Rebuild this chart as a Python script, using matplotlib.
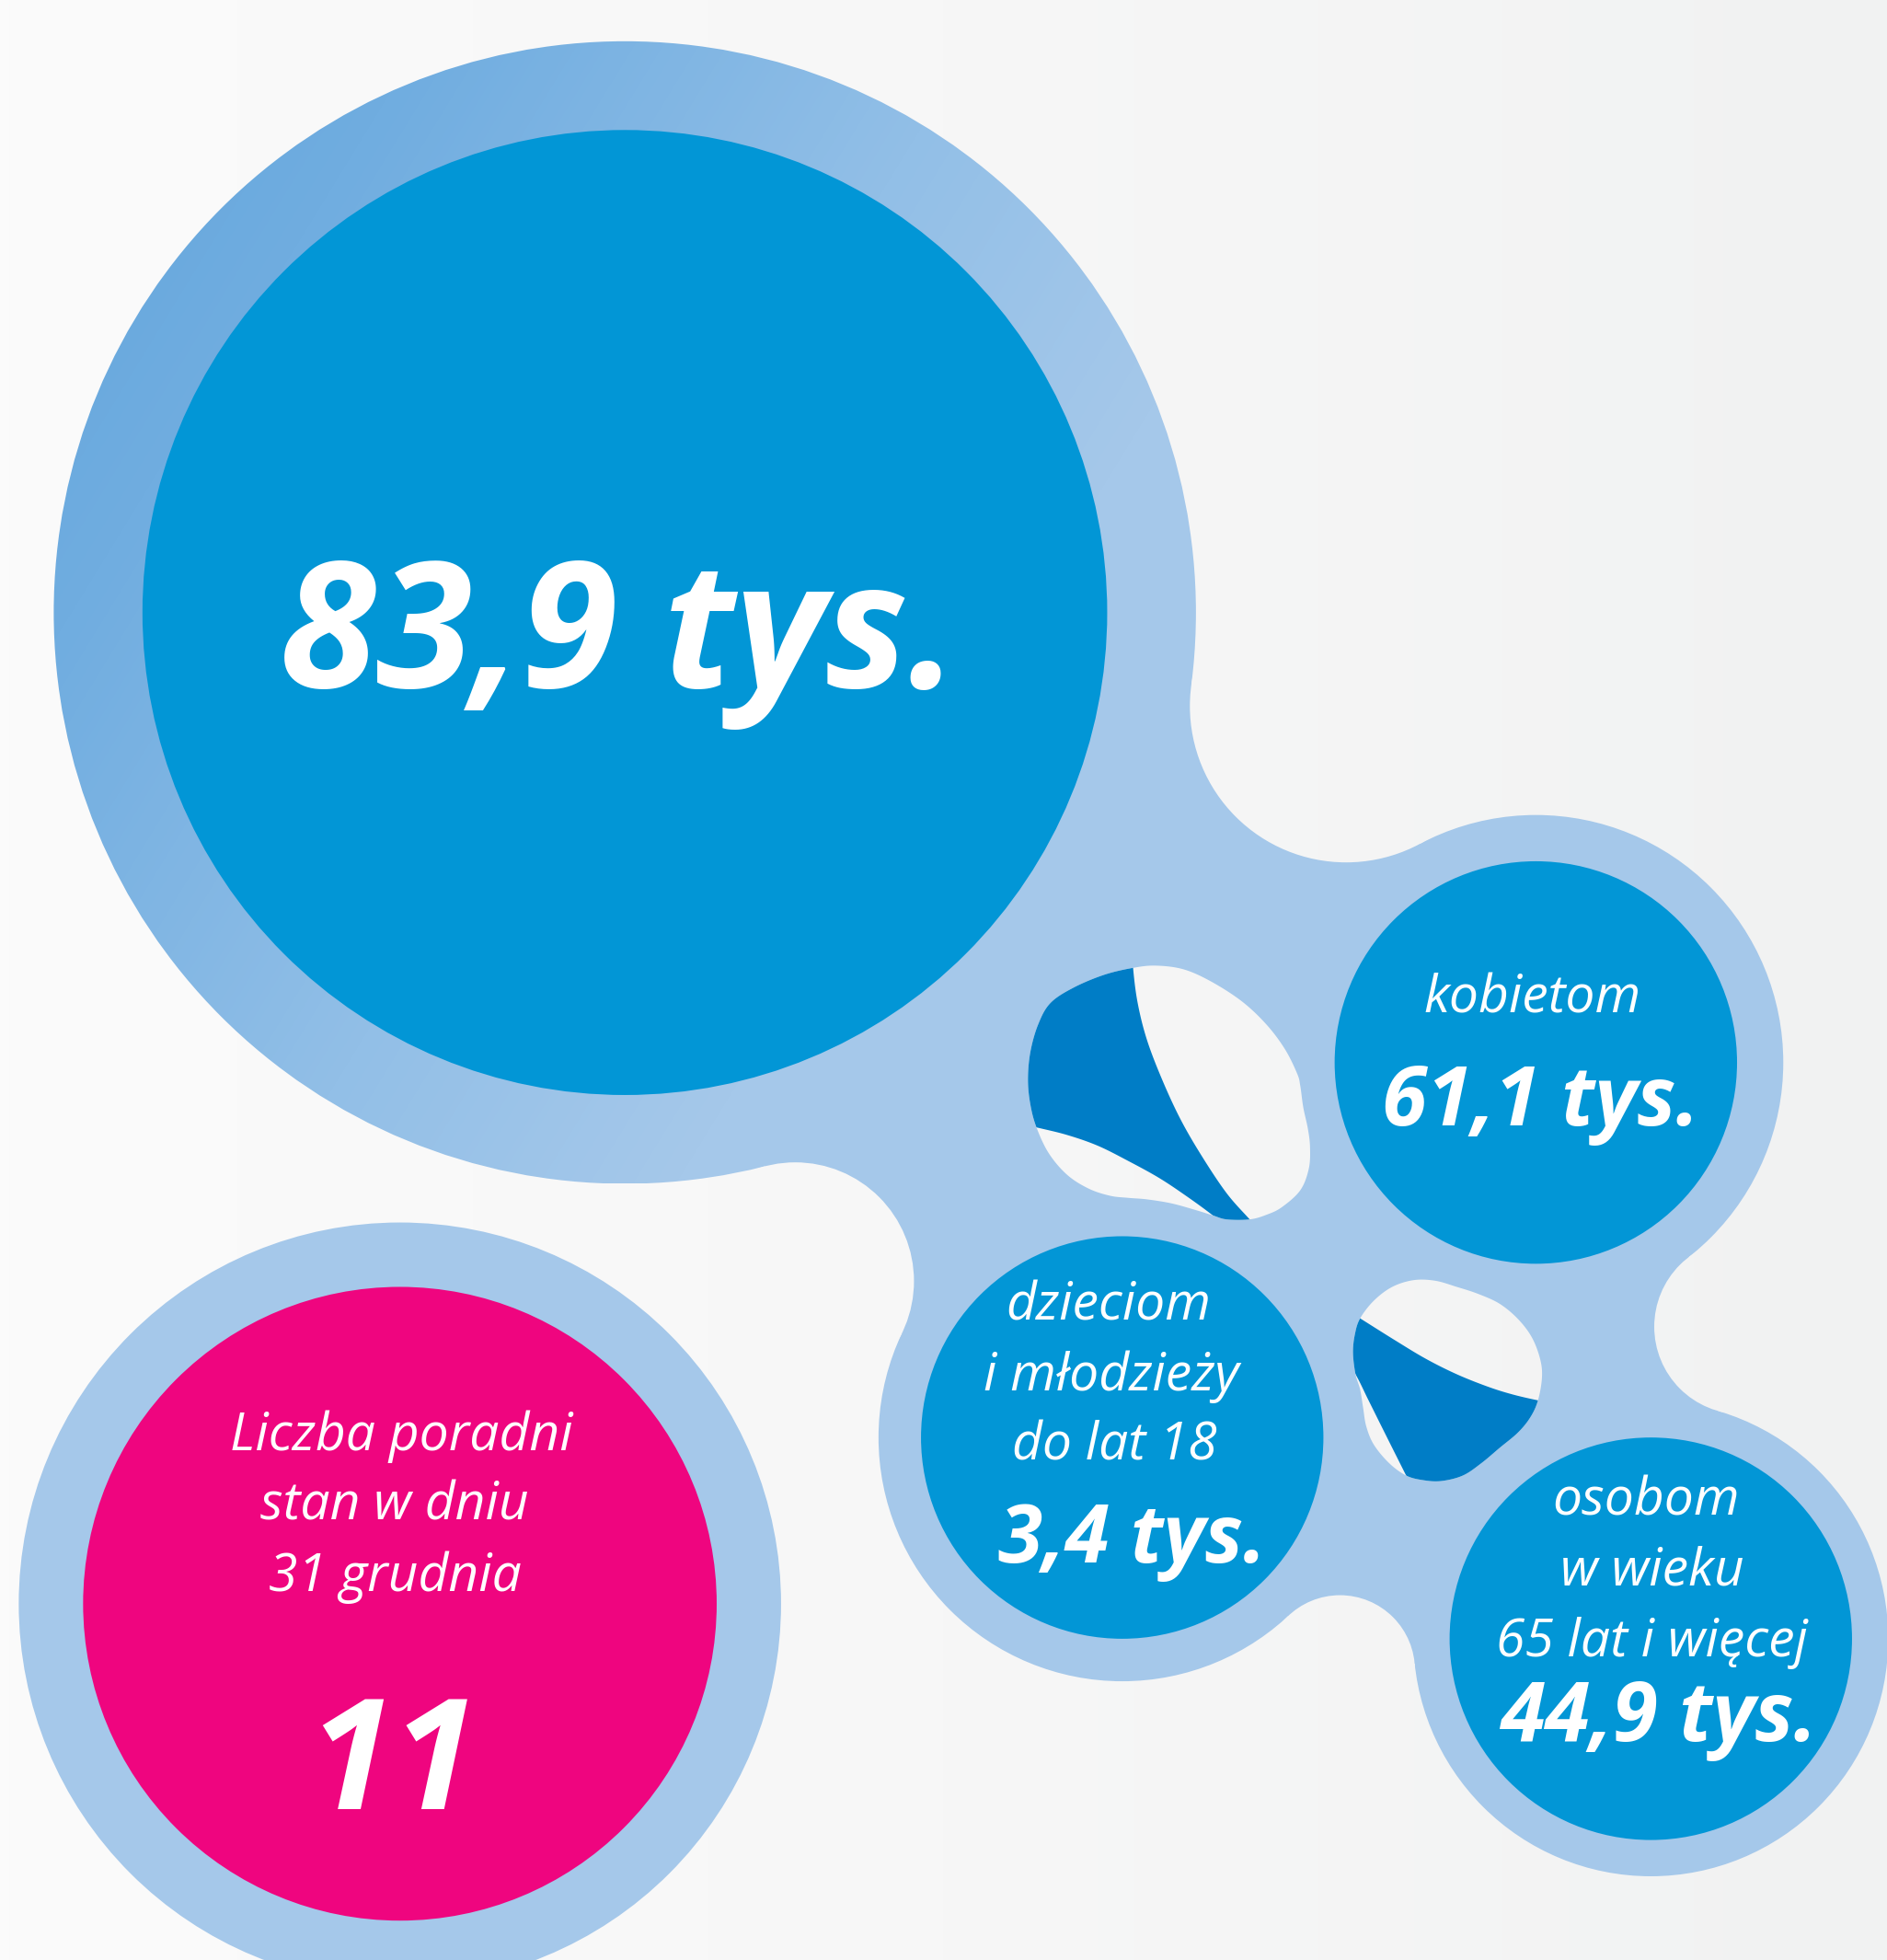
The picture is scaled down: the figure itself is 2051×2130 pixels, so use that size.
import numpy as np
import matplotlib.pyplot as plt
from matplotlib.patches import Circle, Polygon
from matplotlib.colors import LinearSegmentedColormap

# dane
wartosci = ['83,9 tys.', '61,1 tys.', '3,4 tys.', '44,9 tys.', '11']
etykiety = [
    [],
    ['kobietom'],
    ['dzieciom', 'i młodzieży', 'do lat 18'],
    ['osobom', 'w wieku', '65 lat i więcej'],
    ['Liczba poradni', 'stan w dniu', '31 grudnia'],
]

W, H = 1510, 1568
JASNY = '#a5c8ea'
NIEBIESKI = '#0296d6'
CIEMNY = '#007dc6'
ROZOWY = '#ef057f'

fig = plt.figure(figsize=(20.51, 21.30), dpi=100)
ax = fig.add_axes([0, 0, 1, 1])
ax.axis('off')

cmap_tlo = LinearSegmentedColormap.from_list('tlo', ['#fbfbfb', '#f7f7f7', '#f1f2f2'])
gradient_tlo = np.linspace(0, 1, 512).reshape(1, -1)


def tlo(klip=None, z=0):
    im = ax.imshow(gradient_tlo, cmap=cmap_tlo, extent=(0, W, H, 0), aspect='auto',
                   interpolation='bilinear', zorder=z)
    if klip is not None:
        klip.set_facecolor('none')
        klip.set_edgecolor('none')
        ax.add_patch(klip)
        im.set_clip_path(klip)


def krzywa(pkt, zamknieta=True, n=24):
    p = np.asarray(pkt, float)
    k = len(p)
    wynik = []
    m = k if zamknieta else k - 1
    t = np.linspace(0, 1, n, endpoint=False)[:, None]
    for i in range(m):
        p0 = p[(i - 1) % k] if (zamknieta or i > 0) else p[i]
        p1 = p[i]
        p2 = p[(i + 1) % k]
        p3 = p[(i + 2) % k] if (zamknieta or i + 2 < k) else p2
        c1 = p1 + (p2 - p0) / 6
        c2 = p2 - (p3 - p1) / 6
        b = ((1 - t) ** 3) * p1 + 3 * ((1 - t) ** 2) * t * c1 + 3 * (1 - t) * t ** 2 * c2 + t ** 3 * p2
        wynik.append(b)
    if not zamknieta:
        wynik.append(p[-1:])
    return np.vstack(wynik)


def wciecie(c1, r1, c2, r2, r, srodek):
    # kolo styczne zewnetrznie do dwoch kol, po stronie dalszej od srodka ukladu
    c1 = np.array(c1, float)
    c2 = np.array(c2, float)
    d1, d2 = r1 + r, r2 + r
    D = np.linalg.norm(c2 - c1)
    a = (d1 ** 2 - d2 ** 2 + D ** 2) / (2 * D)
    h = np.sqrt(max(d1 ** 2 - a ** 2, 0))
    e = (c2 - c1) / D
    P = c1 + a * e
    prost = np.array([-e[1], e[0]])
    kand = [P + h * prost, P - h * prost]
    return max(kand, key=lambda q: np.linalg.norm(q - np.array(srodek)))


tlo()

# kola: srodek, promien zewnetrzny
duze, R = (500, 490), 457
kob, r_kob = (1229, 850), 198
osob, r_osob = (1321, 1311), 190
dzi, r_dzi = (898, 1150), 195
por = (320, 1283)
srodek = np.mean([duze, kob, osob, dzi], axis=0)

wciecia = []
for (a, ra, b, rb, r) in [(duze, R, kob, r_kob, 125), (kob, r_kob, osob, r_osob, 70),
                          (osob, r_osob, dzi, r_dzi, 60), (dzi, r_dzi, duze, R, 95)]:
    wciecia.append((wciecie(a, ra, b, rb, r, srodek), r, a, b))

# wypelnienie miedzy kolami
ax.add_patch(Polygon([duze, kob, osob, dzi], closed=True, facecolor=JASNY, edgecolor=JASNY, lw=1.5, zorder=1))
for (sr, r, a, b) in wciecia:
    ax.add_patch(Polygon([a, b, sr], closed=True, facecolor=JASNY, edgecolor=JASNY, lw=1.5, zorder=1))

for (sr, r) in [(kob, r_kob), (osob, r_osob), (dzi, r_dzi), (por, 305)]:
    ax.add_patch(Circle(sr, r, facecolor=JASNY, edgecolor='none', zorder=1.2))

# duze kolo z gradientem
xs = np.linspace(0, 1, 300)
gx, gy = np.meshgrid(xs, xs)
tt = 0.62 * gx + 0.38 * gy
cmap_kolo = LinearSegmentedColormap.from_list('kolo', [(0, '#62a5dc'), (0.2, '#70ade0'), (0.5, '#92bfe7'),
                                                      (0.72, JASNY), (1, JASNY)])
im = ax.imshow(tt, cmap=cmap_kolo, vmin=0, vmax=1, extent=(duze[0] - R, duze[0] + R, duze[1] + R, duze[1] - R),
               aspect='auto', interpolation='bilinear', zorder=1.5)
klip = Circle(duze, R, facecolor='none', edgecolor='none')
ax.add_patch(klip)
im.set_clip_path(klip)

for (sr, r, a, b) in wciecia:
    tlo(Circle(sr, r), z=2)

# dziury
dziura1 = [(840.5, 802.5), (858.9, 790.2), (883.4, 779.9), (906.7, 774.3), (925.1, 772.5), (947.2, 775.5),
           (969.3, 785.3), (993.9, 801.2), (1013.5, 819.7), (1028.2, 839.3), (1038.0, 858.9), (1040.5, 868.7),
           (1042.9, 885.9), (1046.6, 903.1), (1048.3, 917.8), (1047.3, 935.0), (1040.5, 952.2), (1025.8, 965.7),
           (1013.5, 971.8), (1000.0, 975.5), (981.6, 975.5), (970.5, 972.3), (957.0, 968.1), (937.4, 962.7),
           (917.8, 959.5), (903.1, 958.3), (888.3, 956.6), (871.2, 950.9), (854.0, 939.9), (839.3, 922.7),
           (829.4, 901.9), (824.5, 883.5), (822.6, 863.8), (824.5, 841.7), (830.7, 819.7)]
dziura2 = [(1088.4, 1054.7), (1099.4, 1040.5), (1114.1, 1029.5), (1131.3, 1024.1), (1148.5, 1024.6),
           (1165.7, 1029.5), (1182.8, 1035.1), (1200.0, 1043.0), (1214.7, 1055.2), (1225.8, 1069.9),
           (1232.4, 1087.1), (1233.9, 1101.9), (1230.7, 1120.3), (1224.6, 1133.8), (1214.7, 1146.0),
           (1200.0, 1158.3), (1185.3, 1170.6), (1170.6, 1180.4), (1153.4, 1184.8), (1138.7, 1184.1),
           (1125.2, 1180.4), (1111.7, 1170.6), (1099.4, 1155.8), (1093.3, 1141.1), (1090.8, 1126.4),
           (1088.4, 1111.7), (1084.7, 1099.4), (1082.7, 1082.2), (1084.2, 1067.5)]

klin1_p = krzywa([(905, 745), (906.7, 774.3), (910.4, 802.5), (917.8, 831.9), (930.0, 863.8), (944.8, 895.7),
                  (961.9, 925.2), (981.6, 954.6), (1000.0, 975.5), (1015, 992)], False)
klin1_l = krzywa([(992, 990), (970.5, 972.3), (949.7, 957.1), (927.6, 942.4), (903.1, 928.9), (878.5, 916.6),
                  (854.0, 908.0), (829.4, 901.9), (800, 895)], False)
klin1 = np.vstack([klin1_p, klin1_l, [(790, 740)]])

klin2_g = krzywa([(1065, 1040), (1088.4, 1054.7), (1116.6, 1072.4), (1141.1, 1087.1), (1165.7, 1099.4),
                  (1190.2, 1109.2), (1209.8, 1115.4), (1230.7, 1120.3), (1255, 1125)], False)
klin2_l = krzywa([(1134, 1198), (1125.2, 1180.4), (1114.1, 1158.3), (1104.3, 1138.7), (1094.5, 1119.0),
                  (1084.7, 1099.4), (1072, 1080)], False)
klin2 = np.vstack([klin2_g, [(1260, 1215)], klin2_l])

for d, k in [(dziura1, klin1), (dziura2, klin2)]:
    ksztalt = krzywa(d)
    tlo(Polygon(ksztalt, closed=True), z=2)
    kl = Polygon(k, closed=True, facecolor=CIEMNY, edgecolor='none', zorder=2.5)
    ax.add_patch(kl)
    maska = Polygon(ksztalt, closed=True, facecolor='none', edgecolor='none')
    ax.add_patch(maska)
    kl.set_clip_path(maska)

# kola wewnetrzne
for (sr, r, kol) in [(duze, 386, NIEBIESKI), (kob, 161, NIEBIESKI), (osob, 161, NIEBIESKI),
                     (dzi, 161, NIEBIESKI), (por, 253.5, ROZOWY)]:
    ax.add_patch(Circle(sr, r, facecolor=kol, edgecolor='none', zorder=3))

# teksty
rodzina = ['Open Sans', 'DejaVu Sans']
f_etyk = dict(family=rodzina, style='italic', weight='normal', color='white', ha='center', va='baseline', zorder=4)
f_liczba = dict(family=rodzina, style='italic', weight='bold', color='white', ha='center', va='baseline', zorder=4)

poz_liczb = [(495, 550, 137), (1233, 900, 64), (906, 1250, 63), (1327, 1393, 64), (314, 1447, 120)]
poz_etyk = [[], [(1226, 810)], [(887, 1056), (889, 1112), (892, 1168)],
            [(1317, 1212), (1322, 1268), (1322, 1325)], [(321, 1160), (316, 1216), (316, 1273)]]

for wart, (x, y, fs) in zip(wartosci, poz_liczb):
    ax.text(x, y, wart, fontsize=fs, **f_liczba)
for linie, pozycje in zip(etykiety, poz_etyk):
    for tekst, (x, y) in zip(linie, pozycje):
        ax.text(x, y, tekst, fontsize=41, **f_etyk)

ax.set_xlim(0, W)
ax.set_ylim(H, 0)
fig.savefig('out.png', dpi=100)
